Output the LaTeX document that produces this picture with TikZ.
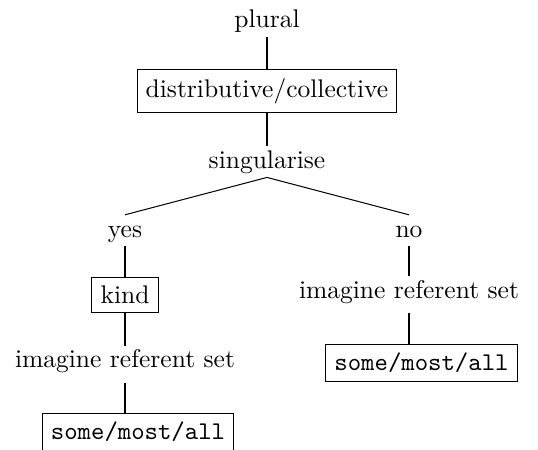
\documentclass[tikz,border=0pt]{standalone}
\usepackage{tikz}
\tikzset{
  lbl/.style={anchor=base, inner sep=1.5pt, text height=7pt, text depth=2pt},
  boxed/.style={draw, anchor=north, inner sep=3.4pt},
  edge/.style={line width=0.4pt}
}
\begin{document}
\begin{tikzpicture}[x=0.392pt, y=-0.392pt]
  \useasboundingbox (0,0) rectangle (538,450);

  % trunk
  \node[lbl] (plural) at (267,28) {plural};
  \node[boxed] (dc) at (267,69) {distributive/collective};
  \node[lbl] (sing) at (267,168) {singularise};

  % branches
  \node[lbl] (yes) at (125,237) {yes};
  \node[lbl] (no) at (409,237) {no};

  % left branch
  \node[boxed] (kind) at (125,277) {kind};
  \node[lbl] (imL) at (125,368) {imagine referent set};
  \node[boxed] (smaL) at (138,413) {\texttt{some/most/all}};

  % right branch
  \node[lbl] (imR) at (409,298) {imagine referent set};
  \node[boxed] (smaR) at (421.5,344) {\texttt{some/most/all}};

  % connectors
  \draw[edge] (plural.south) -- (dc.north);
  \draw[edge] (dc.south) -- (sing.north);
  \draw[edge] (sing.south) -- (yes.north);
  \draw[edge] (sing.south) -- (no.north);
  \draw[edge] (yes.south) -- (kind.north);
  \draw[edge] (kind.south) -- (imL.north);
  \draw[edge, shorten <=2pt] (imL.south) -- (imL.south |- smaL.north);
  \draw[edge] (no.south) -- (imR.north);
  \draw[edge, shorten <=2.3pt] (imR.south) -- (imR.south |- smaR.north);
\end{tikzpicture}
\end{document}
